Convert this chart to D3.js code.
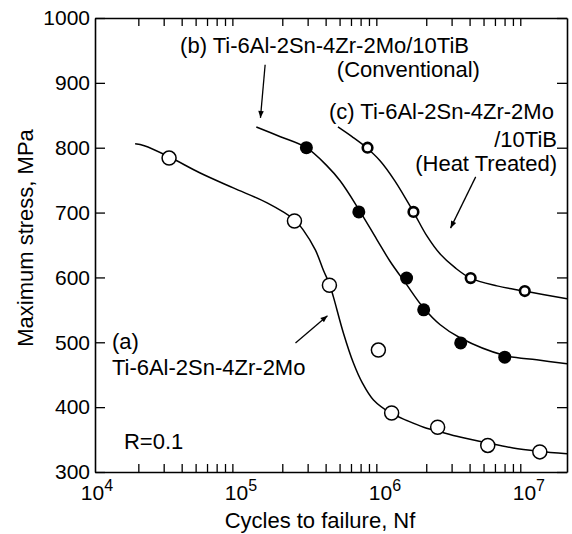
<!DOCTYPE html>
<html>
<head>
<meta charset="utf-8">
<script src="https://cdn.jsdelivr.net/npm/d3@7"></script>
<style>
  body { margin: 0; background: #fff; }
  svg { display: block; font-family: "Liberation Sans", Arial, Helvetica, sans-serif; }
  .axis path, .axis line { stroke: #000; }
  .axis path { stroke-width: 1.6; }
  .axis line { stroke-width: 1.3; }
  .axis text { font-size: 21px; fill: #000; font-family: "Liberation Sans", Arial, sans-serif; }
  .curve { fill: none; stroke: #000; stroke-width: 1.5; }
  .lbl { font-size: 22px; fill: #000; }
</style>
</head>
<body>
<script>
// measured points: [cycles, MPa]
var seriesA = [[3.27e4, 784], [2.43e5, 687], [4.25e5, 588], [9.3e5, 488], [1.15e6, 391], [2.4e6, 369], [5.35e6, 341], [1.23e7, 331]];
var seriesB = [[2.94e5, 800], [6.8e5, 701], [1.46e6, 599], [1.92e6, 550], [3.47e6, 499], [7.02e6, 477]];
var seriesC = [[7.82e5, 800], [1.63e6, 701], [4.07e6, 599], [9.67e6, 579]];

// fitted curves
var curveA = [[1.9e4, 806], [2.2e4, 803], [3.27e4, 786], [5.38e4, 761], [9.13e4, 738], [1.57e5, 715], [2.43e5, 689],
  [2.8e5, 673], [3.4e5, 642], [3.86e5, 611], [4.25e5, 590], [4.53e5, 570], [5.32e5, 514], [6.24e5, 468], [7.21e5, 437],
  [8.6e5, 411], [1.13e6, 391], [1.48e6, 379], [1.92e6, 369], [2.5e6, 362], [3.43e6, 354], [5.28e6, 345], [8.02e6, 337],
  [1.21e7, 332], [1.9e7, 328]];
var curveB = [[1.32e5, 832], [1.94e5, 817], [2.94e5, 800], [4.09e5, 772], [5.04e5, 749], [6.71e5, 707], [9.1e5, 658],
  [1.12e6, 625], [1.45e6, 590], [1.9e6, 554], [2.5e6, 527], [3.43e6, 507], [6.93e6, 480], [1.17e7, 473], [1.9e7, 467]];
var curveC = [[4.87e5, 832], [6.1e5, 817], [7.7e5, 800], [9.55e5, 780], [1.21e6, 749], [1.62e6, 702], [2.02e6, 664],
  [2.5e6, 636], [3.17e6, 615], [4.05e6, 599], [6.19e6, 587], [9.6e6, 579], [1.9e7, 567]];

var yTicks = [300, 400, 500, 600, 700, 800, 900, 1000];
var decades = [4, 5, 6, 7];

// annotation arrows [from, to] and labels, in data units
var arrows = [
  [[1.52e5, 928], [1.41e5, 846]],
  [[4.41e6, 755], [2.95e6, 676]],
  [[2.47e5, 499], [4.12e5, 541]]
];
var labels = [
  {text: "(b) Ti-6Al-2Sn-4Zr-2Mo/10TiB", at: [3.9e4, 946], anchor: "start"},
  {text: "(Conventional)", at: [4.72e6, 909], anchor: "end"},
  {text: "(c) Ti-6Al-2Sn-4Zr-2Mo", at: [4.22e5, 844], anchor: "start"},
  {text: "/10TiB", at: [1.62e7, 801], anchor: "end"},
  {text: "(Heat Treated)", at: [1.62e7, 764], anchor: "end"},
  {text: "(a)", at: [1.31e4, 490], anchor: "start"},
  {text: "Ti-6Al-2Sn-4Zr-2Mo", at: [1.31e4, 450], anchor: "start"},
  {text: "R=0.1", at: [1.59e4, 335], anchor: "start"}
];

var W = 572, H = 534;
var x = d3.scaleLog().domain([1e4, 1.9e7]).range([95, 567]);
var y = d3.scaleLinear().domain([300, 1000]).range([472, 18]);

var svg = d3.select("body").append("svg").attr("width", W).attr("height", H);

svg.append("defs").append("marker")
  .attr("id", "head")
  .attr("viewBox", "0 0 10 10")
  .attr("refX", 10).attr("refY", 5)
  .attr("markerWidth", 9).attr("markerHeight", 7)
  .attr("markerUnits", "userSpaceOnUse")
  .attr("orient", "auto")
  .append("path").attr("d", "M0,1 L10,5 L0,9 Z").attr("fill", "#000");

// minor log ticks 2..9 per decade
var minor = [];
decades.forEach(function (e) {
  for (var k = 2; k <= 9; k++) {
    var v = k * Math.pow(10, e);
    if (v <= x.domain()[1]) minor.push(v);
  }
});

svg.append("g").attr("class", "axis")
  .attr("transform", "translate(0," + y(300) + ")")
  .call(d3.axisBottom(x).tickValues(minor).tickSize(-8).tickSizeOuter(0).tickFormat(""));
svg.append("g").attr("class", "axis")
  .attr("transform", "translate(0," + y(1000) + ")")
  .call(d3.axisTop(x).tickValues(minor).tickSize(-8).tickSizeOuter(0).tickFormat(""));
svg.append("g").attr("class", "axis")
  .attr("transform", "translate(" + x.range()[0] + ",0)")
  .call(d3.axisLeft(y).tickValues(yTicks).tickSize(-10).tickSizeOuter(0).tickPadding(5).tickFormat(d3.format("d")));
svg.append("g").attr("class", "axis")
  .attr("transform", "translate(" + x.range()[1] + ",0)")
  .call(d3.axisRight(y).tickValues(yTicks).tickSize(-10).tickSizeOuter(0).tickFormat(""));

// decade labels 10^n
var dl = svg.selectAll(".dec").data(decades).enter().append("text")
  .attr("class", "dec")
  .attr("x", function (d) { return x(Math.pow(10, d)) + 2; })
  .attr("y", y(300) + 28)
  .attr("text-anchor", "middle")
  .style("font-size", "21px");
dl.append("tspan").text("10");
dl.append("tspan").attr("dy", -9).style("font-size", "16px").text(function (d) { return d; });

// axis titles
svg.append("text").attr("class", "lbl")
  .attr("x", 320).attr("y", 528)
  .attr("text-anchor", "middle")
  .text("Cycles to failure, Nf");
svg.append("text").attr("class", "lbl")
  .attr("transform", "translate(33,238) rotate(-90)")
  .attr("text-anchor", "middle")
  .text("Maximum stress, MPa");

// curves
var line = d3.line()
  .x(function (d) { return x(d[0]); })
  .y(function (d) { return y(d[1]); })
  .curve(d3.curveCatmullRom.alpha(0.5));
[curveA, curveB, curveC].forEach(function (c) {
  svg.append("path").attr("class", "curve").attr("d", line(c));
});

// points
svg.selectAll(".pa").data(seriesA).enter().append("circle")
  .attr("cx", function (d) { return x(d[0]); })
  .attr("cy", function (d) { return y(d[1]); })
  .attr("r", 7).attr("fill", "#fff").attr("stroke", "#000").attr("stroke-width", 1.5);
svg.selectAll(".pb").data(seriesB).enter().append("circle")
  .attr("cx", function (d) { return x(d[0]); })
  .attr("cy", function (d) { return y(d[1]); })
  .attr("r", 6.5).attr("fill", "#000");
svg.selectAll(".pc").data(seriesC).enter().append("circle")
  .attr("cx", function (d) { return x(d[0]); })
  .attr("cy", function (d) { return y(d[1]); })
  .attr("r", 4.8).attr("fill", "#fff").attr("stroke", "#000").attr("stroke-width", 2.6);

// arrows
svg.selectAll(".arrow").data(arrows).enter().append("line")
  .attr("x1", function (d) { return x(d[0][0]); })
  .attr("y1", function (d) { return y(d[0][1]); })
  .attr("x2", function (d) { return x(d[1][0]); })
  .attr("y2", function (d) { return y(d[1][1]); })
  .attr("stroke", "#000").attr("stroke-width", 1.3)
  .attr("marker-end", "url(#head)");

// text labels
svg.selectAll(".note").data(labels).enter().append("text")
  .attr("class", "lbl")
  .attr("x", function (d) { return x(d.at[0]); })
  .attr("y", function (d) { return y(d.at[1]); })
  .attr("text-anchor", function (d) { return d.anchor; })
  .text(function (d) { return d.text; });
</script>
</body>
</html>
